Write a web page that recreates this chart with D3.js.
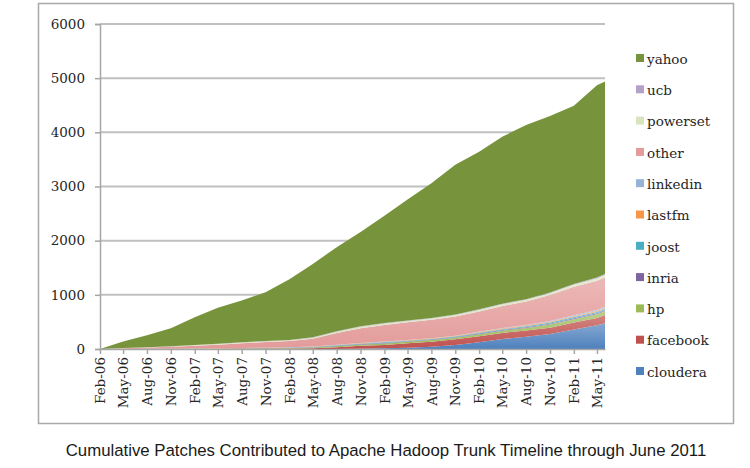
<!DOCTYPE html>
<html>
<head>
<meta charset="utf-8">
<script src="https://cdn.jsdelivr.net/npm/d3@7"></script>
<style>
    body { margin: 0; background: #fff; }
    .axis text { font-family: "DejaVu Serif", serif; font-size: 13.5px; fill: #262626; }
    .legend text { font-family: "DejaVu Serif", serif; font-size: 13.5px; fill: #262626; }
    .title { font-family: "Liberation Sans", Arial, sans-serif; font-size: 16.8px; fill: #1a1a1a; }
</style>
</head>
<body>
<div id="chart"></div>
<script>

// cumulative patches per contributor, every quarter
var months = ["Feb-06", "May-06", "Aug-06", "Nov-06", "Feb-07", "May-07", "Aug-07", "Nov-07",
    "Feb-08", "May-08", "Aug-08", "Nov-08", "Feb-09", "May-09", "Aug-09", "Nov-09",
    "Feb-10", "May-10", "Aug-10", "Nov-10", "Feb-11", "May-11", "Jun-11"];

var cloudera = [0, 0, 0, 0, 0, 0, 0, 0, 0, 0, 2, 6, 12, 25, 43, 74, 125, 185, 228, 275, 360, 440, 476];
var facebook = [0, 0, 0, 1, 2, 3, 4, 6, 9, 16, 30, 52, 64, 80, 93, 106, 110, 112, 115, 118, 128, 132, 152];
var hp       = [0, 1, 2, 2, 3, 4, 6, 8, 10, 12, 20, 22, 26, 27, 28, 29, 38, 41, 46, 58, 62, 68, 69];
var inria    = [0, 0, 0, 1, 1, 2, 2, 3, 4, 5, 8, 9, 10, 10, 10, 10, 12, 13, 14, 17, 18, 20, 20];
var joost    = [0, 0, 1, 1, 1, 2, 3, 3, 4, 5, 9, 10, 11, 11, 11, 12, 14, 15, 17, 20, 22, 24, 24];
var lastfm   = [0, 1, 1, 1, 1, 1, 2, 2, 3, 4, 6, 6, 8, 8, 8, 8, 10, 11, 12, 14, 16, 17, 18];
var linkedin = [0, 0, 0, 0, 1, 1, 1, 2, 2, 3, 5, 5, 7, 7, 7, 7, 11, 12, 13, 16, 17, 19, 19];
var other    = [0, 12, 22, 34, 53, 67, 88, 104, 114, 145, 215, 275, 307, 326, 338, 354, 372, 406, 430, 480, 527, 542, 545];
var powerset = [0, 4, 6, 7, 10, 11, 13, 14, 16, 20, 23, 24, 24, 25, 25, 26, 29, 30, 32, 33, 36, 40, 43];
var ucb      = [0, 2, 2, 3, 4, 4, 5, 6, 6, 8, 9, 9, 9, 9, 9, 10, 11, 12, 12, 13, 14, 16, 17];
var yahoo    = [0, 120, 221, 335, 509, 665, 771, 902, 1122, 1352, 1553, 1742, 1982, 2232, 2488, 2764,
    2908, 3083, 3216, 3256, 3290, 3552, 3555];

var seriesNames = ["cloudera", "facebook", "hp", "inria", "joost", "lastfm", "linkedin", "other", "powerset", "ucb", "yahoo"];
var seriesColors = ["#4F81BD", "#C0504D", "#9BBB59", "#8064A2", "#4BACC6", "#F79646", "#95B3D7", "#E39B9A", "#D7E4BD", "#B3A2C7", "#77933C"];

var xTickLabels = ["Feb-06", "May-06", "Aug-06", "Nov-06", "Feb-07", "May-07", "Aug-07", "Nov-07",
    "Feb-08", "May-08", "Aug-08", "Nov-08", "Feb-09", "May-09", "Aug-09", "Nov-09",
    "Feb-10", "May-10", "Aug-10", "Nov-10", "Feb-11", "May-11"];
var yTicks = [0, 1000, 2000, 3000, 4000, 5000, 6000];

var titleText = "Cumulative Patches Contributed to Apache Hadoop Trunk Timeline through June 2011";

var parseMonth = d3.timeParse("%b-%y");
var columns = [cloudera, facebook, hp, inria, joost, lastfm, linkedin, other, powerset, ucb, yahoo];

var rows = months.map(function (m, i) {
    var row = {date: parseMonth(m)};
    seriesNames.forEach(function (name, k) {
        row[name] = columns[k][i];
    });
    return row;
});

var width = 750, height = 468;
var plot = {left: 100, right: 605, top: 24, bottom: 349};

var svg = d3.select("#chart").append("svg")
    .attr("width", width)
    .attr("height", height);

// outer frame
svg.append("rect")
    .attr("x", 38.5)
    .attr("y", 3.5)
    .attr("width", 695)
    .attr("height", 420)
    .style("fill", "none")
    .style("stroke", "#A9A9A9")
    .style("stroke-width", 1.5);

var x = d3.scaleTime()
    .domain([parseMonth("Feb-06"), parseMonth("Jun-11")])
    .range([plot.left, plot.right]);

var y = d3.scaleLinear()
    .domain([0, 6000])
    .range([plot.bottom, plot.top]);

var color = d3.scaleOrdinal()
    .domain(seriesNames)
    .range(seriesColors);

// gridlines
svg.append("g")
    .selectAll("line")
    .data(yTicks.slice(1))
    .enter().append("line")
    .attr("x1", plot.left)
    .attr("x2", plot.right)
    .attr("y1", function (d) { return y(d); })
    .attr("y2", function (d) { return y(d); })
    .style("stroke", "#C0C0C0")
    .style("stroke-width", 2);

// gradients so the areas look like the Excel fills
var defs = svg.append("defs");
seriesNames.forEach(function (name) {
    var base = color(name);
    var grad = defs.append("linearGradient")
        .attr("id", "g-" + name)
        .attr("x1", 0).attr("y1", 0)
        .attr("x2", 0).attr("y2", 1);
    grad.append("stop").attr("offset", "0%")
        .attr("stop-color", name === "yahoo" ? base : d3.interpolateRgb(base, "#fff")(0.3));
    grad.append("stop").attr("offset", "100%")
        .attr("stop-color", base);
});

var stack = d3.stack().keys(seriesNames);
var layers = stack(rows);

var area = d3.area()
    .x(function (d) { return x(d.data.date); })
    .y0(function (d) { return y(d[0]); })
    .y1(function (d) { return y(d[1]); });

svg.append("g")
    .selectAll("path")
    .data(layers)
    .enter().append("path")
    .attr("d", area)
    .style("fill", function (d) { return "url(#g-" + d.key + ")"; })
    .style("stroke", "none");

// y axis
var yAxis = d3.axisLeft(y)
    .tickValues(yTicks)
    .tickSize(5)
    .tickPadding(10)
    .tickFormat(d3.format("d"));

var yg = svg.append("g")
    .attr("class", "axis")
    .attr("transform", "translate(" + plot.left + ",0)")
    .call(yAxis);
yg.selectAll("line, path").style("stroke", "#A6A6A6").style("stroke-width", 1.5);

// x axis
var xAxis = d3.axisBottom(x)
    .tickValues(xTickLabels.map(parseMonth))
    .tickSize(5)
    .tickSizeOuter(0)
    .tickFormat(d3.timeFormat("%b-%y"));

var xg = svg.append("g")
    .attr("class", "axis")
    .attr("transform", "translate(0," + plot.bottom + ")")
    .call(xAxis);
xg.selectAll("line, path").style("stroke", "#A6A6A6").style("stroke-width", 1.5);
xg.selectAll("text")
    .attr("transform", "rotate(-90)")
    .attr("x", -8)
    .attr("y", 0)
    .attr("dy", ".35em")
    .style("text-anchor", "end");

// legend, yahoo on top
var legend = svg.append("g")
    .attr("class", "legend")
    .selectAll("g")
    .data(seriesNames.slice().reverse())
    .enter().append("g")
    .attr("transform", function (d, i) {
        return "translate(636," + (59 + i * 31.3) + ")";
    });

legend.append("rect")
    .attr("x", 0)
    .attr("y", -5)
    .attr("width", 8)
    .attr("height", 8)
    .style("fill", function (d) { return color(d); });

legend.append("text")
    .attr("x", 11)
    .attr("y", 0)
    .attr("dy", ".35em")
    .text(function (d) { return d; });

svg.append("text")
    .attr("class", "title")
    .attr("x", 386)
    .attr("y", 456)
    .attr("text-anchor", "middle")
    .text(titleText);

</script>
</body>
</html>
